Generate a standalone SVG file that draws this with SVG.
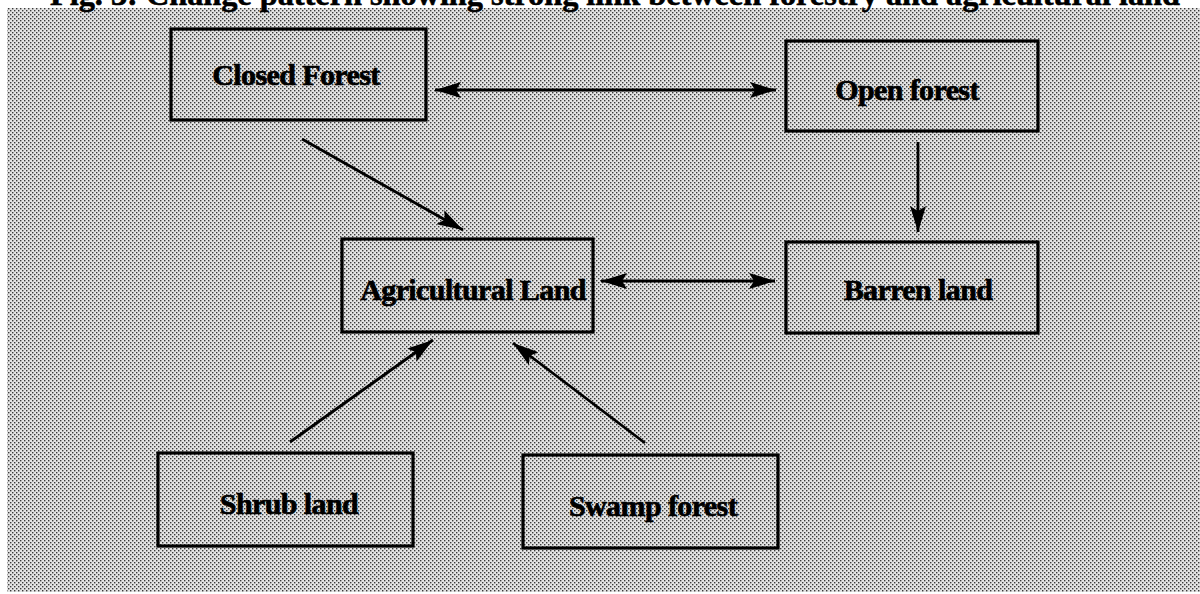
<svg xmlns="http://www.w3.org/2000/svg" width="1200" height="594" viewBox="0 0 1200 594">
<defs>
<pattern id="dots" x="0" y="0" width="4" height="4" patternUnits="userSpaceOnUse">
<rect width="4" height="4" fill="#e4e4e4"/>
<rect x="0" y="0" width="1.4" height="1.4" fill="#3a3a3a"/>
<rect x="2" y="2" width="1.4" height="1.4" fill="#3a3a3a"/>
</pattern>
<marker id="ah" viewBox="0 0 26 16" refX="26" refY="8" markerWidth="26" markerHeight="16" markerUnits="userSpaceOnUse" orient="auto-start-reverse">
<path d="M0,0 L26,8 L0,16 L5,8 z" fill="#000"/>
</marker>
</defs>
<style>
.box{fill:url(#dots);stroke:#000;stroke-width:3.2}
.lbl{font-family:"Liberation Serif","Times New Roman",serif;font-weight:bold;font-size:30px;fill:#000;stroke:#000;stroke-width:0.7;text-anchor:middle;letter-spacing:-0.6px}
.title{font-family:"Liberation Serif","Times New Roman",serif;font-weight:bold;font-size:32px;fill:#000;stroke:#000;stroke-width:0.6}
.conn line{stroke:#000;stroke-width:2.8;fill:none}
</style>
<rect x="0" y="0" width="1200" height="594" fill="#ffffff"/>
<rect x="7" y="8" width="1193" height="584" fill="url(#dots)"/>
<text class="title" x="50" y="5" textLength="1130" lengthAdjust="spacingAndGlyphs">Fig. 3: Change pattern showing strong link between forestry and agricultural land</text>
<g id="closed-forest"><rect class="box" x="171" y="29" width="255" height="91"/><text class="lbl" x="296" y="85">Closed Forest</text></g>
<g id="open-forest"><rect class="box" x="786" y="41" width="252" height="90"/><text class="lbl" x="907" y="100">Open forest</text></g>
<g id="agricultural-land"><rect class="box" x="342" y="239" width="251" height="93"/><text class="lbl" x="473" y="300">Agricultural Land</text></g>
<g id="barren-land"><rect class="box" x="786" y="242" width="252" height="91"/><text class="lbl" x="918" y="300">Barren land</text></g>
<g id="shrub-land"><rect class="box" x="158" y="453" width="255" height="93"/><text class="lbl" x="289" y="514">Shrub land</text></g>
<g id="swamp-forest"><rect class="box" x="523" y="455" width="255" height="93"/><text class="lbl" x="653" y="516">Swamp forest</text></g>
<g id="connectors" class="conn">
<line x1="435" y1="90" x2="776" y2="90" marker-start="url(#ah)" marker-end="url(#ah)"/>
<line x1="302" y1="139" x2="463" y2="230" marker-end="url(#ah)"/>
<line x1="918" y1="142" x2="918" y2="232" marker-end="url(#ah)"/>
<line x1="601" y1="281" x2="775" y2="281" marker-start="url(#ah)" marker-end="url(#ah)"/>
<line x1="290" y1="442" x2="433" y2="340" marker-end="url(#ah)"/>
<line x1="645" y1="443" x2="513" y2="343" marker-end="url(#ah)"/>
</g>
</svg>
